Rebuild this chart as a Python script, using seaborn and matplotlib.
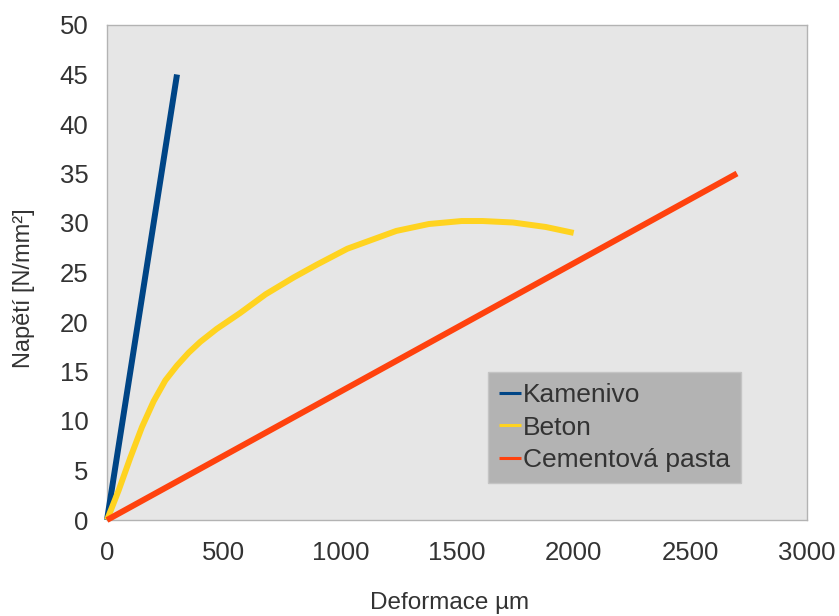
import matplotlib
matplotlib.use("Agg")
import matplotlib.pyplot as plt
import seaborn as sns
import pandas as pd

# data
kamenivo_x = [0, 300]
kamenivo_y = [0, 45]

beton_x = [0, 50, 100, 150, 200, 250, 300, 350, 400, 470, 570, 680, 800, 900,
           1030, 1100, 1240, 1380, 1520, 1610, 1740, 1880, 2000]
beton_y = [0, 3.0, 6.3, 9.4, 12.0, 14.1, 15.6, 16.9, 18.0, 19.3, 20.9, 22.8,
           24.5, 25.8, 27.4, 28.0, 29.2, 29.9, 30.2, 30.2, 30.05, 29.6, 29.0]

pasta_x = [0, 2700]
pasta_y = [0, 35]

names = ["Kamenivo", "Beton", "Cementová pasta"]
colors = ["#004586", "#ffd320", "#ff420e"]

df = pd.concat([
    pd.DataFrame({"x": kamenivo_x, "y": kamenivo_y, "serie": names[0]}),
    pd.DataFrame({"x": beton_x, "y": beton_y, "serie": names[1]}),
    pd.DataFrame({"x": pasta_x, "y": pasta_y, "serie": names[2]}),
], ignore_index=True)

sns.set_style("white")
plt.rcParams["font.family"] = ["Liberation Sans", "DejaVu Sans"]
text_col = "#333333"
grey = "#b3b3b3"

fig = plt.figure(figsize=(8.39, 6.16), dpi=100)
ax = fig.add_axes([107 / 839, 96 / 616, 700 / 839, 495 / 616])

sns.lineplot(data=df, x="x", y="y", hue="serie", palette=dict(zip(names, colors)),
             sort=False, estimator=None, linewidth=4.3, ax=ax)
for ln in ax.get_lines():
    ln.set_solid_capstyle("butt")
    ln.set_solid_joinstyle("round")
    ln.set_clip_on(False)

ax.set_facecolor("#e6e6e6")
ax.set_xlim(0, 3000)
ax.set_ylim(0, 50)
ax.set_xticks(range(0, 3001, 500))
ax.set_yticks(range(0, 51, 5))
for s in ax.spines.values():
    s.set_color(grey)
    s.set_linewidth(1)
    s.set_zorder(0.5)
ax.tick_params(axis="both", direction="out", length=8, width=1, color=grey,
               labelsize=18.5, labelcolor=text_col)
ax.tick_params(axis="x", pad=7)
ax.tick_params(axis="y", pad=5.5)

ax.set_xlabel("Deformace µm", fontsize=17.5, color=text_col)
ax.set_ylabel("Napětí [N/mm²]", fontsize=17, color=text_col)
ax.xaxis.set_label_coords(0.489, -0.145)
ax.yaxis.set_label_coords(-0.103, 0.469)

leg = ax.legend(loc="upper left", bbox_to_anchor=(381 / 700, (520 - 372) / 495),
                frameon=True, fancybox=False, fontsize=19, handlelength=0.85,
                handletextpad=0.05, borderaxespad=0, borderpad=0.41,
                labelspacing=0.33, title=None)
leg.get_frame().set_facecolor("#b3b3b3")
leg.get_frame().set_edgecolor("#c4c4c4")
leg.get_frame().set_alpha(1)
for t in leg.get_texts():
    t.set_color(text_col)
for h in leg.get_lines():
    h.set_linewidth(2.2)

fig.savefig("out.png", dpi=100)
